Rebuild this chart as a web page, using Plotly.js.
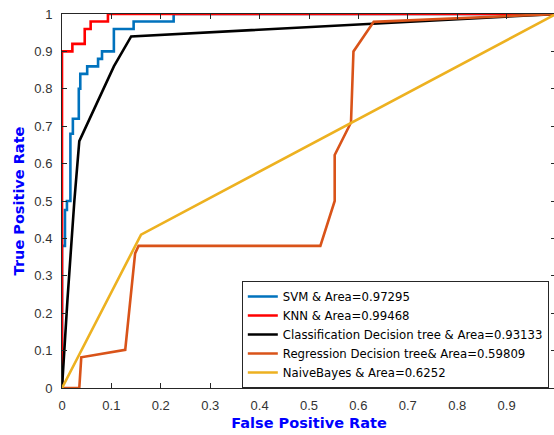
<!DOCTYPE html>
<html><head><meta charset="utf-8">
<script src="https://cdn.plot.ly/plotly-3.0.1.min.js"></script>
<style>html,body{margin:0;padding:0;overflow:hidden;background:#fff}#chart{width:558px;height:435px}</style>
</head><body><div id="chart"></div>
<script>
const legendNames = ["SVM & Area=0.97295","KNN & Area=0.99468","Classification Decision tree & Area=0.93133","Regression Decision tree& Area=0.59809","NaiveBayes & Area=0.6252"];
const svmX = [0,0,0.006,0.006,0.01,0.01,0.017,0.017,0.022,0.022,0.034,0.034,0.037,0.037,0.051,0.051,0.073,0.073,0.081,0.081,0.105,0.105,0.145,0.145,0.226,0.226,1];
const svmY = [0,0.38,0.38,0.476,0.476,0.5,0.5,0.68,0.68,0.72,0.72,0.8,0.8,0.84,0.84,0.86,0.86,0.88,0.88,0.9,0.9,0.96,0.96,0.98,0.98,1,1];
const knnX = [0,0,0.021,0.021,0.046,0.046,0.058,0.058,0.093,0.093,1];
const knnY = [0,0.9,0.9,0.92,0.92,0.96,0.96,0.98,0.98,1,1];
const cdtX = [0,0.011,0.025,0.035,0.105,0.14,1];
const cdtY = [0,0.235,0.5,0.66,0.86,0.94,1];
const rdtX = [0,0.035,0.039,0.128,0.148,0.155,0.523,0.552,0.552,0.585,0.59,0.631,1];
const rdtY = [0,0,0.082,0.102,0.36,0.38,0.38,0.5,0.623,0.71,0.9,0.979,1];
const nbX = [0,0.16,1];
const nbY = [0,0.41,1];
const colors = ["#0072BD","#FF0000","#000000","#D95319","#EDB120"];
const xTicks = [0,0.1,0.2,0.3,0.4,0.5,0.6,0.7,0.8,0.9];
const yTicks = [0,0.1,0.2,0.3,0.4,0.5,0.6,0.7,0.8,0.9,1];

const series = [[svmX,svmY],[knnX,knnY],[cdtX,cdtY],[rdtX,rdtY],[nbX,nbY]];
const data = series.map((s,i)=>({x:s[0],y:s[1],type:'scatter',mode:'lines',name:legendNames[i],
  line:{color:colors[i],width:2.6},cliponaxis:false}));

const tickFont = {family:'"Liberation Sans", Arial, sans-serif', size:13, color:'#333333'};
const titleFont = {family:'"DejaVu Sans", sans-serif', size:14.5, color:'#0000FF'};
const layout = {
  width:558, height:435,
  margin:{l:62,r:2,t:14,b:47},
  paper_bgcolor:'#fff', plot_bgcolor:'#fff',
  font:tickFont,
  showlegend:true,
  xaxis:{range:[0,1],tickvals:xTicks,ticktext:xTicks.map(String),ticks:'inside',ticklen:5,tickcolor:'#262626',
    showline:true,mirror:'ticks',linecolor:'#262626',linewidth:1,showgrid:false,zeroline:false,
    tickfont:tickFont,ticklabelstandoff:5,
    title:{text:'<b>False Positive Rate</b>',font:titleFont,standoff:6}},
  yaxis:{range:[0,1],tickvals:yTicks,ticktext:yTicks.map(String),ticks:'inside',ticklen:5,tickcolor:'#262626',
    showline:true,mirror:'ticks',linecolor:'#262626',linewidth:1,showgrid:false,zeroline:false,
    tickfont:tickFont,ticklabelstandoff:6,
    title:{text:'<b>True Positive Rate</b>',font:titleFont,standoff:6}},
  legend:{x:0.364,y:0,xanchor:'left',yanchor:'bottom',bgcolor:'#fff',bordercolor:'#262626',borderwidth:1,
    entrywidth:340,entrywidthmode:'pixels',
    font:{family:'"DejaVu Sans", sans-serif',size:11.7,color:'#000'},tracegroupgap:0}
};
Plotly.newPlot('chart',data,layout,{displayModeBar:false,staticPlot:true});
</script></body></html>
